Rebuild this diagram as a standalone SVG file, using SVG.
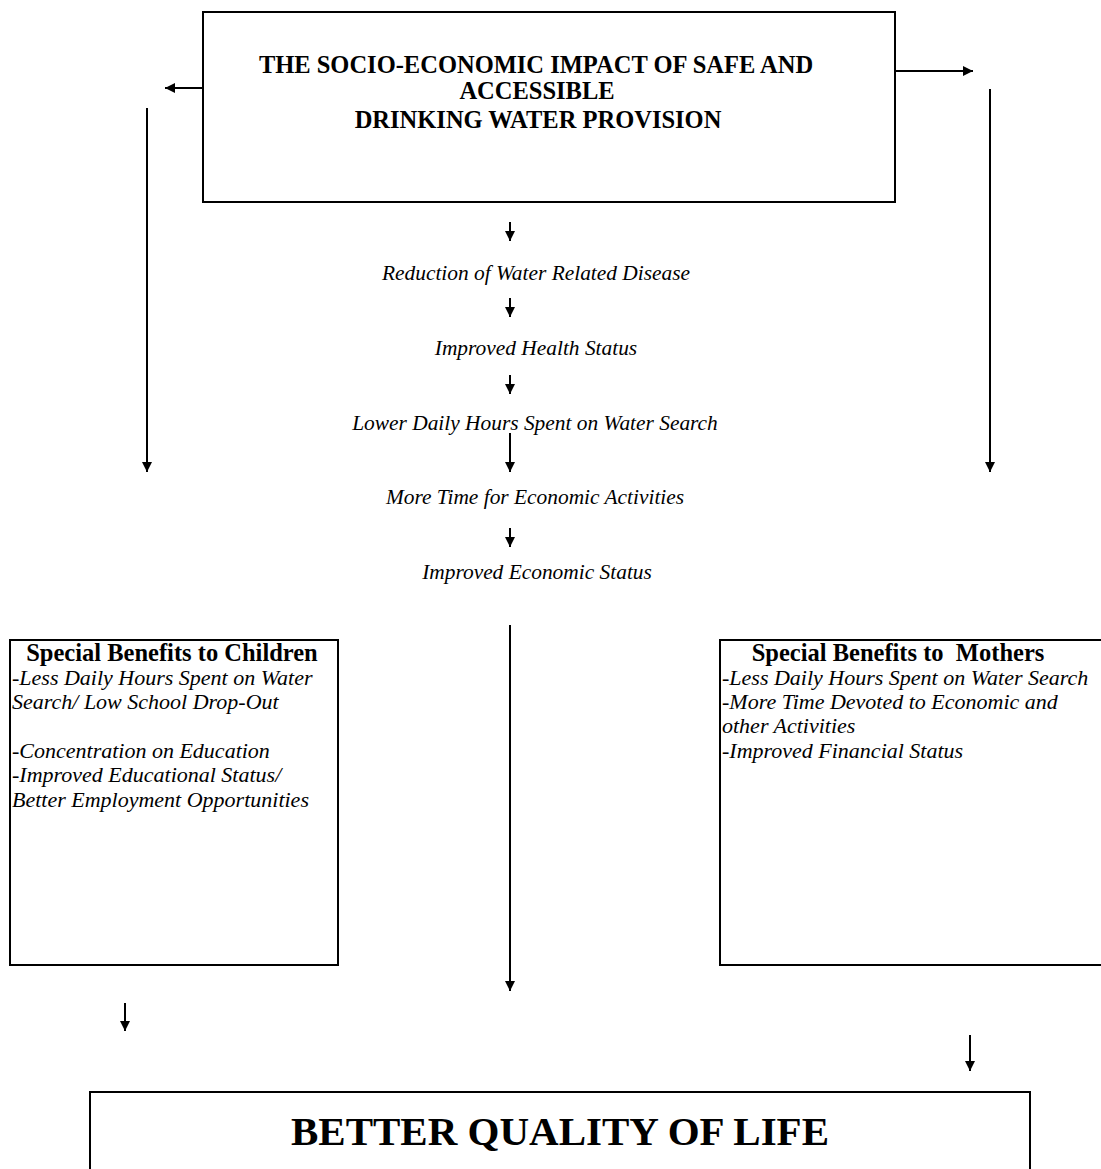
<svg xmlns="http://www.w3.org/2000/svg" width="1101" height="1169" viewBox="0 0 1101 1169">
<style>
.box{fill:#fff;stroke:#000;stroke-width:2}
.ln{stroke:#000;stroke-width:2;fill:none;marker-end:url(#ah)}
.tb{font-family:"Liberation Serif",serif;font-weight:bold;fill:#000}
.ti{font-family:"Liberation Serif",serif;font-style:italic;fill:#000}
.c{text-anchor:middle}
</style>
<defs>
<marker id="ah" markerUnits="userSpaceOnUse" markerWidth="12" markerHeight="12" refX="10" refY="5" orient="auto">
<path d="M0,0 L10,5 L0,10 Z" fill="#000"/>
</marker>
</defs>
<rect width="1101" height="1169" fill="#fff"/>
<g id="top">
<rect class="box" x="203" y="12" width="692" height="190"/>
<text class="tb c" x="536" y="73" font-size="24.5">THE SOCIO-ECONOMIC IMPACT OF SAFE AND</text>
<text class="tb c" x="537" y="99" font-size="24.5">ACCESSIBLE</text>
<text class="tb c" x="538" y="128" font-size="24.5">DRINKING WATER PROVISION</text>
</g>
<g id="chain">
<text class="ti c" x="536" y="280" font-size="21.4">Reduction of Water Related Disease</text>
<text class="ti c" x="536" y="355" font-size="21.4">Improved Health Status</text>
<text class="ti c" x="535" y="430" font-size="21.4">Lower Daily Hours Spent on Water Search</text>
<text class="ti c" x="535" y="504" font-size="21.4">More Time for Economic Activities</text>
<text class="ti c" x="537" y="579" font-size="21.4">Improved Economic Status</text>
</g>
<g id="children">
<rect class="box" x="10" y="640" width="328" height="325"/>
<text class="tb c" x="172" y="661" font-size="24.5">Special Benefits to Children</text>
<text class="ti" x="12" y="685" font-size="22">-Less Daily Hours Spent on Water</text>
<text class="ti" x="12" y="709" font-size="22">Search/ Low School Drop-Out</text>
<text class="ti" x="12" y="758" font-size="22">-Concentration on Education</text>
<text class="ti" x="12" y="782" font-size="22">-Improved Educational Status/</text>
<text class="ti" x="12" y="807" font-size="22">Better Employment Opportunities</text>
</g>
<g id="mothers">
<rect class="box" x="720" y="640" width="390" height="325"/>
<text class="tb c" x="898" y="661" font-size="24.5" xml:space="preserve">Special Benefits to  Mothers</text>
<text class="ti" x="722" y="685" font-size="22">-Less Daily Hours Spent on Water Search</text>
<text class="ti" x="722" y="709" font-size="22">-More Time Devoted to Economic and</text>
<text class="ti" x="722" y="733" font-size="22">other Activities</text>
<text class="ti" x="722" y="758" font-size="22">-Improved Financial Status</text>
</g>
<g id="result">
<rect class="box" x="90" y="1092" width="940" height="100"/>
<text class="tb c" x="560" y="1145" font-size="41">BETTER QUALITY OF LIFE</text>
</g>
<g id="connectors">
<line class="ln" x1="203" y1="88" x2="165" y2="88"/>
<line class="ln" x1="895" y1="71" x2="973" y2="71"/>
<line class="ln" x1="147" y1="108" x2="147" y2="472"/>
<line class="ln" x1="990" y1="89" x2="990" y2="472"/>
<line class="ln" x1="510" y1="222" x2="510" y2="241"/>
<line class="ln" x1="510" y1="298" x2="510" y2="317"/>
<line class="ln" x1="510" y1="375" x2="510" y2="394"/>
<line class="ln" x1="510" y1="433" x2="510" y2="472"/>
<line class="ln" x1="510" y1="528" x2="510" y2="547"/>
<line class="ln" x1="510" y1="625" x2="510" y2="991"/>
<line class="ln" x1="125" y1="1003" x2="125" y2="1031"/>
<line class="ln" x1="970" y1="1035" x2="970" y2="1071"/>
</g>
</svg>
